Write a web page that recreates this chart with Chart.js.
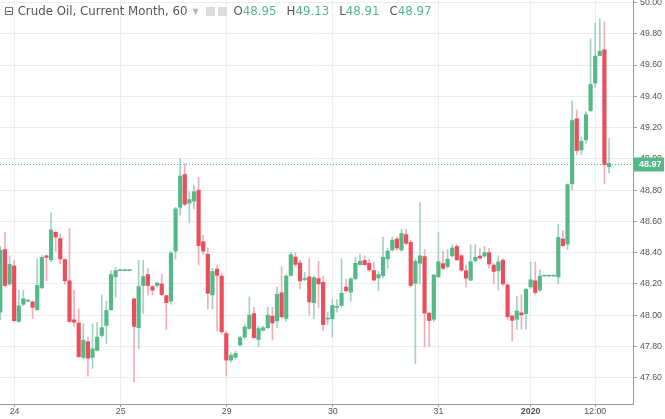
<!DOCTYPE html>
<html>
<head>
<meta charset="utf-8">
<script src="https://cdn.jsdelivr.net/npm/chart.js@4.4.1/dist/chart.umd.min.js"></script>
<style>
  html, body { margin: 0; padding: 0; background: #fff; }
  #wrap { position: relative; width: 665px; height: 419px; }
  #title {
    position: absolute; left: 4px; top: 4px;
    font: 11.8px "DejaVu Sans", sans-serif; color: #555; white-space: nowrap;
  }
  #title .v { color: #53b987; margin-right: 10px; }
  #title .arrow { color: #b5b5b5; font-size: 8px; margin: 0 7px 0 5px; vertical-align: 1px; }
  #title .ico {
    display: inline-block; width: 9px; height: 9px; background: #dcdcdc;
    margin-right: 3px; vertical-align: -1px;
  }
</style>
</head>
<body>
<div id="wrap">
  <canvas id="oilChart" width="665" height="419"></canvas>
  <div id="title">⊟ Crude Oil, Current Month, 60<span class="arrow">▼</span><span class="ico"></span><span class="ico"></span>&nbsp;O<span class="v" id="vO"></span>H<span class="v" id="vH"></span>L<span class="v" id="vL"></span>C<span class="v" id="vC"></span></div>
</div>
<script>
// hourly candles
const candleOpen = [
  48.02, 48.42, 48.20, 48.315, 47.96, 48.07, 48.09, 48.085, 48.035, 48.175,
  48.38, 48.355, 48.53, 48.49, 48.355, 48.22, 47.97, 47.95, 47.73, 47.83,
  47.73, 47.775, 47.87, 47.935, 48.035, 48.245, 48.285, 48.285, 48.285, 48.104,
  47.92, 48.19, 48.26, 48.183, 48.19, 48.20, 48.125, 48.09, 48.41, 48.69,
  48.90, 48.717, 48.73, 48.80, 48.47, 48.39, 48.13, 48.295, 48.25, 47.883,
  47.713, 47.73, 47.81, 47.86, 47.915, 48.01, 47.845, 47.904, 47.92, 47.994,
  47.964, 48.143, 47.98, 48.255, 48.372, 48.334, 48.228, 48.245, 48.08, 48.234,
  48.21, 47.975, 47.977, 48.05, 48.062, 48.18, 48.147, 48.232, 48.323, 48.35,
  48.332, 48.285, 48.238, 48.253, 48.36, 48.417, 48.487, 48.417, 48.515, 48.466,
  48.204, 48.332, 48.375, 48.013, 47.974, 48.245, 48.33, 48.311, 48.38, 48.44,
  48.38, 48.284, 48.224, 48.348, 48.378, 48.378, 48.40, 48.32, 48.284, 48.352,
  48.194, 47.995, 47.974, 48.015, 48.01, 48.181, 48.22, 48.161, 48.25, 48.25,
  48.25, 48.245, 48.487, 48.455, 48.84, 49.256, 49.057, 49.121, 49.309, 49.484,
  49.661, 49.698, 48.95
];
const candleHigh = [
  48.44, 48.53, 48.38, 48.35, 48.16, 48.16, 48.10, 48.09, 48.36, 48.38,
  48.385, 48.655, 48.54, 48.52, 48.36, 48.555, 48.16, 48.04, 47.945, 47.86,
  47.945, 47.955, 48.13, 48.09, 48.285, 48.305, 48.285, 48.285, 48.285, 48.11,
  48.35, 48.35, 48.30, 48.19, 48.21, 48.26, 48.13, 48.41, 48.69, 49.00,
  48.97, 48.79, 48.83, 48.88, 48.51, 48.43, 48.30, 48.32, 48.27, 47.895,
  47.76, 47.77, 47.865, 47.94, 48.117, 48.05, 47.93, 47.93, 48.05, 48.05,
  48.18, 48.31, 48.26, 48.40, 48.40, 48.35, 48.275, 48.365, 48.25, 48.345,
  48.25, 48.02, 48.10, 48.10, 48.36, 48.23, 48.24, 48.37, 48.39, 48.38,
  48.36, 48.34, 48.28, 48.50, 48.43, 48.50, 48.50, 48.55, 48.55, 48.48,
  48.36, 48.72, 48.42, 48.02, 48.26, 48.53, 48.41, 48.42, 48.45, 48.45,
  48.39, 48.32, 48.45, 48.45, 48.43, 48.44, 48.43, 48.33, 48.38, 48.36,
  48.20, 48.00, 48.12, 48.13, 48.17, 48.34, 48.34, 48.29, 48.25, 48.25,
  48.25, 48.583, 48.54, 48.84, 49.369, 49.313, 49.14, 49.30, 49.768, 49.87,
  49.896, 49.875, 49.13
];
const candleLow = [
  47.97, 48.18, 48.19, 47.955, 47.955, 48.06, 48.085, 47.98, 48.03, 48.17,
  48.22, 48.34, 48.41, 48.33, 48.20, 47.955, 47.93, 47.73, 47.72, 47.61,
  47.66, 47.77, 47.86, 47.82, 48.03, 48.115, 48.285, 48.285, 48.285, 47.57,
  47.785, 48.01, 48.13, 48.13, 48.18, 48.125, 47.91, 48.07, 48.36, 48.64,
  48.70, 48.59, 48.68, 48.32, 48.39, 48.04, 48.04, 47.90, 47.88, 47.61,
  47.70, 47.72, 47.80, 47.85, 47.91, 47.85, 47.80, 47.90, 47.915, 47.84,
  47.92, 47.98, 47.96, 48.25, 48.31, 48.17, 48.22, 48.00, 47.98, 48.05,
  47.90, 47.94, 47.86, 48.02, 48.05, 48.15, 48.09, 48.23, 48.32, 48.32,
  48.28, 48.22, 48.157, 48.24, 48.30, 48.41, 48.415, 48.41, 48.45, 48.18,
  47.69, 48.20, 47.796, 47.80, 47.96, 48.24, 48.29, 48.30, 48.37, 48.35,
  48.28, 48.18, 48.22, 48.34, 48.36, 48.37, 48.30, 48.20, 48.16, 48.19,
  47.97, 47.835, 47.91, 47.91, 47.91, 48.17, 48.13, 48.15, 48.25, 48.25,
  48.25, 48.20, 48.44, 48.42, 48.80, 49.027, 49.027, 49.10, 49.30, 49.46,
  49.66, 48.84, 48.91
];
const candleClose = [
  48.415, 48.19, 48.325, 47.965, 48.06, 48.105, 48.09, 48.05, 48.19, 48.37,
  48.37, 48.545, 48.50, 48.36, 48.22, 47.96, 47.955, 47.735, 47.84, 47.725,
  47.785, 47.86, 47.92, 48.03, 48.26, 48.285, 48.285, 48.285, 48.285, 47.928,
  48.183, 48.247, 48.19, 48.16, 48.206, 48.132, 48.08, 48.398, 48.68, 48.89,
  48.71, 48.74, 48.79, 48.445, 48.41, 48.14, 48.28, 48.255, 47.894, 47.713,
  47.743, 47.755, 47.857, 47.925, 48.00, 47.857, 47.915, 47.92, 48.00, 47.95,
  48.134, 47.99, 48.25, 48.387, 48.325, 48.22, 48.235, 48.085, 48.24, 48.20,
  47.94, 47.98, 48.062, 48.055, 48.14, 48.157, 48.232, 48.332, 48.345, 48.323,
  48.29, 48.225, 48.26, 48.37, 48.41, 48.48, 48.43, 48.523, 48.46, 48.19,
  48.345, 48.38, 48.013, 47.966, 48.258, 48.342, 48.30, 48.358, 48.43, 48.354,
  48.288, 48.237, 48.342, 48.37, 48.365, 48.40, 48.327, 48.28, 48.341, 48.20,
  47.99, 47.967, 48.027, 48.002, 48.166, 48.226, 48.145, 48.25, 48.25, 48.25,
  48.25, 48.498, 48.445, 48.835, 49.245, 49.053, 49.113, 49.283, 49.476, 49.657,
  49.689, 48.963, 48.97
];

// time axis labels (position = candle index)
const timeTickPos = [3.1, 26.1, 49.1, 72.1, 95, 115, 129];
const timeTickText = ["24", "25", "29", "30", "31", "2020", "12:00"];
const priceTicks = [47.60, 47.80, 48.00, 48.20, 48.40, 48.60, 48.80, 49.00, 49.20, 49.40, 49.60, 49.80, 50.00];

const last = candleOpen.length - 1;
const lastClose = candleClose[last];

const UP = "#53b987";
const DOWN = "#eb4d5c";
const UP_WICK = "#a3d1c6";
const DOWN_WICK = "#f4adb4";
const GRID = "#e9eef2";
const AXIS = "#9a9a9a";
const TEXT = "#555";

document.getElementById("vO").textContent = candleOpen[last].toFixed(2);
document.getElementById("vH").textContent = candleHigh[last].toFixed(2);
document.getElementById("vL").textContent = candleLow[last].toFixed(2);
document.getElementById("vC").textContent = lastClose.toFixed(2);

const isUp = (i) => candleClose[i] >= candleOpen[i];

const bodies = candleOpen.map((o, i) => ({ x: i, y: [o, candleClose[i]] }));
const wicks = candleLow.map((l, i) => ({ x: i, y: [l, candleHigh[i]] }));

// dotted last-price line + green price tag on the axis
const lastPricePlugin = {
  id: "lastPrice",
  afterDraw(chart) {
    const { ctx, chartArea, scales } = chart;
    const y = Math.round(scales.y.getPixelForValue(lastClose)) + 0.5;
    ctx.save();
    ctx.strokeStyle = UP;
    ctx.lineWidth = 1;
    ctx.setLineDash([1, 2]);
    ctx.beginPath();
    ctx.moveTo(chartArea.left, y);
    ctx.lineTo(chartArea.right, y);
    ctx.stroke();
    ctx.setLineDash([]);
    ctx.fillStyle = UP;
    ctx.fillRect(chartArea.right + 1, y - 7, 30, 14);
    ctx.fillStyle = "#fff";
    ctx.font = "bold 9px 'Liberation Sans', sans-serif";
    ctx.textBaseline = "middle";
    ctx.textAlign = "left";
    ctx.fillText(lastClose.toFixed(2), chartArea.right + 6, y + 0.5);
    ctx.restore();
  }
};

new Chart(document.getElementById("oilChart"), {
  type: "bar",
  data: {
    datasets: [
      {
        data: bodies,
        backgroundColor: (c) => (isUp(c.dataIndex) ? UP : DOWN),
        barThickness: 3.5,
        minBarLength: 1,
        grouped: false
      },
      {
        data: wicks,
        backgroundColor: (c) => (isUp(c.dataIndex) ? UP_WICK : DOWN_WICK),
        barThickness: 1,
        grouped: false
      }
    ]
  },
  options: {
    responsive: false,
    animation: false,
    layout: { padding: 0 },
    plugins: { legend: { display: false }, tooltip: { enabled: false } },
    scales: {
      x: {
        type: "linear",
        min: -0.07,
        max: 137.2,
        offset: false,
        afterBuildTicks: (s) => { s.ticks = timeTickPos.map((v) => ({ value: v })); },
        afterFit: (s) => { s.height = 15; s.paddingLeft = 0; s.paddingRight = 0; },
        ticks: {
          autoSkip: false,
          maxRotation: 0,
          padding: -1,
          color: TEXT,
          callback: (v, i) => timeTickText[i],
          font: (c) => ({
            family: "'Liberation Sans', sans-serif",
            size: 8.8,
            weight: timeTickText[c.index] === "2020" ? "bold" : "normal"
          })
        },
        grid: { color: GRID, offset: false, tickLength: 3, tickColor: AXIS },
        border: { color: AXIS }
      },
      y: {
        position: "right",
        min: 47.432,
        max: 50.016,
        afterBuildTicks: (s) => { s.ticks = priceTicks.map((v) => ({ value: v })); },
        afterFit: (s) => { s.width = 32; s.paddingTop = 0; s.paddingBottom = 0; },
        ticks: {
          padding: 3,
          color: TEXT,
          font: { family: "'Liberation Sans', sans-serif", size: 8.8 },
          callback: (v) => Number(v).toFixed(2)
        },
        grid: { color: GRID, tickLength: 4, tickColor: AXIS },
        border: { color: AXIS }
      }
    }
  },
  plugins: [lastPricePlugin]
});
</script>
</body>
</html>
